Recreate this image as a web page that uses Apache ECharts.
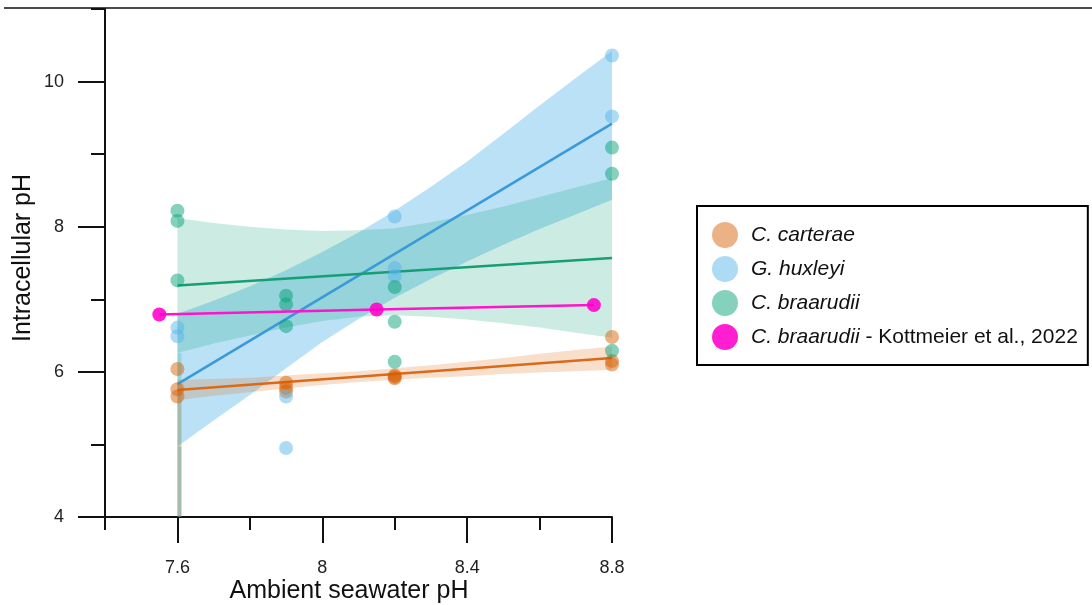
<!DOCTYPE html>
<html>
<head>
<meta charset="utf-8">
<script src="https://cdn.jsdelivr.net/npm/echarts@6/dist/echarts.min.js"></script>
<style>
html,body{margin:0;padding:0;background:#fff;}
#chart{width:1092px;height:605px;}
</style>
</head>
<body>
<div id="chart"></div>
<script>
// ---- Data ----
const xMajorTicks = [7.6, 8, 8.4, 8.8];
const xMinorTicks = [7.4, 7.8, 8.2, 8.6];
const yMajorTicks = [4, 6, 8, 10];
const yMinorTicks = [5, 7, 9, 11];

const seriesNames = ['C. carterae', 'G. huxleyi', 'C. braarudii', 'C. braarudii - Kottmeier et al., 2022'];

// measured points [ambient pH, intracellular pH]
const carteraePoints = [[7.6, 6.04], [7.6, 5.76], [7.6, 5.66], [7.9, 5.85], [7.9, 5.78], [7.9, 5.73], [8.2, 5.95], [8.2, 5.93], [8.2, 5.91], [8.8, 6.48], [8.8, 6.15], [8.8, 6.10]];
const huxleyiPoints = [[7.6, 6.61], [7.6, 6.49], [7.9, 5.66], [7.9, 4.95], [8.2, 8.14], [8.2, 7.43], [8.2, 7.32], [8.8, 10.36], [8.8, 9.52]];
const braarudiiPoints = [[7.6, 8.22], [7.6, 8.08], [7.6, 7.26], [7.9, 7.05], [7.9, 6.93], [7.9, 6.63], [8.2, 7.17], [8.2, 6.69], [8.2, 6.14], [8.8, 9.09], [8.8, 8.73], [8.8, 6.29]];
const kottmeierPoints = [[7.55, 6.79], [8.15, 6.86], [8.75, 6.92]];

// regression lines
const fitX = [7.6, 8.8];
const carteraeFit = [5.75, 6.19];
const huxleyiFit = [5.83, 9.42];
const braarudiiFit = [7.19, 7.57];

// confidence bands
const bandX = [7.6, 7.7, 7.8, 7.9, 8.0, 8.1, 8.2, 8.3, 8.4, 8.5, 8.6, 8.7, 8.8];
const carteraeUpper = [5.89, 5.90, 5.92, 5.95, 5.98, 6.01, 6.05, 6.09, 6.14, 6.19, 6.25, 6.30, 6.35];
const carteraeLower = [5.61, 5.67, 5.72, 5.77, 5.82, 5.86, 5.89, 5.92, 5.94, 5.97, 5.99, 6.01, 6.03];
const huxleyiUpper = [6.80, 6.98, 7.18, 7.40, 7.65, 7.92, 8.22, 8.55, 8.90, 9.28, 9.67, 10.05, 10.42];
const huxleyiLower = [4.97, 5.33, 5.68, 6.05, 6.41, 6.73, 7.02, 7.28, 7.52, 7.75, 7.97, 8.17, 8.37];
const braarudiiUpper = [8.12, 8.05, 8.00, 7.96, 7.94, 7.95, 7.98, 8.06, 8.16, 8.28, 8.41, 8.54, 8.67];
const braarudiiLower = [6.26, 6.39, 6.50, 6.61, 6.70, 6.76, 6.78, 6.76, 6.72, 6.67, 6.61, 6.54, 6.47];
const yAxisMin = 4;

const FONT = "'Liberation Sans', Arial, Helvetica, sans-serif";

function bandSeries(upper, lower, fill) {
  return {
    type: 'custom',
    silent: true,
    clip: true,
    z: 1,
    data: bandX.map((x, i) => [x, upper[i]]),
    renderItem: function (params, api) {
      if (params.dataIndex !== 0) return null;
      const pts = [];
      for (let i = 0; i < bandX.length; i++) pts.push(api.coord([bandX[i], upper[i]]));
      for (let i = bandX.length - 1; i >= 0; i--) pts.push(api.coord([bandX[i], lower[i]]));
      const a = api.coord([bandX[0], lower[0]]);
      const b = api.coord([bandX[0], yAxisMin]);
      return {
        type: 'group',
        children: [
          { type: 'polygon', shape: { points: pts }, style: { fill: fill } },
          { type: 'rect', shape: { x: a[0], y: a[1], width: 4, height: b[1] - a[1] }, style: { fill: fill } }
        ]
      };
    }
  };
}

function fitSeries(name, vals, color) {
  return {
    name: name, type: 'line', silent: true, z: 3,
    data: fitX.map((x, i) => [x, vals[i]]),
    symbol: 'none',
    lineStyle: { color: color, width: 2.5 },
    itemStyle: { color: color }
  };
}

function scatterSeries(name, pts, color) {
  return {
    name: name, type: 'scatter', z: 4,
    data: pts, symbolSize: 14,
    itemStyle: { color: color }
  };
}

const chart = echarts.init(document.getElementById('chart'), null, { renderer: 'canvas' });

const axisLineStyle = { color: '#111', width: 2 };

chart.setOption({
  animation: false,
  backgroundColor: '#fff',
  grid: { left: 105, right: 480, top: 9, bottom: 88, containLabel: false },
  xAxis: [
    {
      type: 'value', min: 7.4, max: 8.8, position: 'bottom',
      axisLine: { show: true, onZero: false, lineStyle: axisLineStyle },
      axisTick: { show: true, customValues: xMinorTicks, length: 13, lineStyle: axisLineStyle },
      axisLabel: { show: false },
      splitLine: { show: false }
    },
    {
      type: 'value', min: 7.4, max: 8.8, position: 'bottom',
      axisLine: { show: false, onZero: false },
      axisTick: { show: true, customValues: xMajorTicks, length: 26, lineStyle: axisLineStyle },
      axisLabel: { show: true, customValues: xMajorTicks, margin: 42, fontSize: 18, color: '#222', fontFamily: FONT },
      splitLine: { show: false }
    }
  ],
  yAxis: [
    {
      type: 'value', min: 4, max: 11, position: 'left',
      axisLine: { show: true, onZero: false, lineStyle: axisLineStyle },
      axisTick: { show: true, customValues: yMinorTicks, length: 14, lineStyle: axisLineStyle },
      axisLabel: { show: false },
      splitLine: { show: false }
    },
    {
      type: 'value', min: 4, max: 11, position: 'left',
      axisLine: { show: false, onZero: false },
      axisTick: { show: true, customValues: yMajorTicks, length: 27, lineStyle: axisLineStyle },
      axisLabel: { show: true, customValues: yMajorTicks, margin: 41, fontSize: 18, color: '#222', fontFamily: FONT },
      splitLine: { show: false }
    }
  ],
  legend: {
    show: true,
    orient: 'vertical',
    left: 697, top: 206,
    data: seriesNames,
    icon: 'circle',
    itemWidth: 26, itemHeight: 26, itemGap: 8,
    borderColor: '#000', borderWidth: 2,
    padding: [16, 10, 15, 15],
    selectedMode: false,
    formatter: function (name) {
      if (name === seriesNames[3]) return '{i|C. braarudii} - Kottmeier et al., 2022';
      return '{i|' + name + '}';
    },
    textStyle: {
      fontSize: 21, color: '#111', fontFamily: FONT, padding: [0, 0, 0, 8],
      rich: { i: { fontStyle: 'italic', fontSize: 21, color: '#111', fontFamily: FONT } }
    }
  },
  graphic: [
    { type: 'line', shape: { x1: 4, y1: 8, x2: 1092, y2: 8 }, style: { stroke: '#111', lineWidth: 1.5 }, z: 10 },
    { type: 'text', x: 349, y: 591, style: { text: 'Ambient seawater pH', font: '25px ' + FONT, fill: '#111', textAlign: 'center', textVerticalAlign: 'middle' } },
    { type: 'text', x: 23, y: 258, rotation: Math.PI / 2, style: { text: 'Intracellular pH', font: '25px ' + FONT, fill: '#111', textAlign: 'center', textVerticalAlign: 'middle' } }
  ],
  series: [
    bandSeries(huxleyiUpper, huxleyiLower, 'rgba(86,180,233,0.4)'),
    bandSeries(braarudiiUpper, braarudiiLower, 'rgba(0,158,115,0.2)'),
    bandSeries(carteraeUpper, carteraeLower, 'rgba(213,94,0,0.2)'),
    fitSeries('fit carterae', carteraeFit, '#D96A1A'),
    fitSeries('fit huxleyi', huxleyiFit, '#3A9AD9'),
    fitSeries('fit braarudii', braarudiiFit, '#179E76'),
    scatterSeries(seriesNames[0], carteraePoints, 'rgba(213,94,0,0.6)'),
    scatterSeries(seriesNames[1], huxleyiPoints, 'rgba(86,180,233,0.6)'),
    scatterSeries(seriesNames[2], braarudiiPoints, 'rgba(0,158,115,0.6)'),
    {
      name: seriesNames[3], type: 'line', z: 5,
      data: kottmeierPoints,
      symbol: 'circle', symbolSize: 14, showSymbol: true,
      lineStyle: { color: '#FF14CC', width: 2.5 },
      itemStyle: { color: 'rgba(255,0,204,0.88)' }
    }
  ]
});
</script>
</body>
</html>
